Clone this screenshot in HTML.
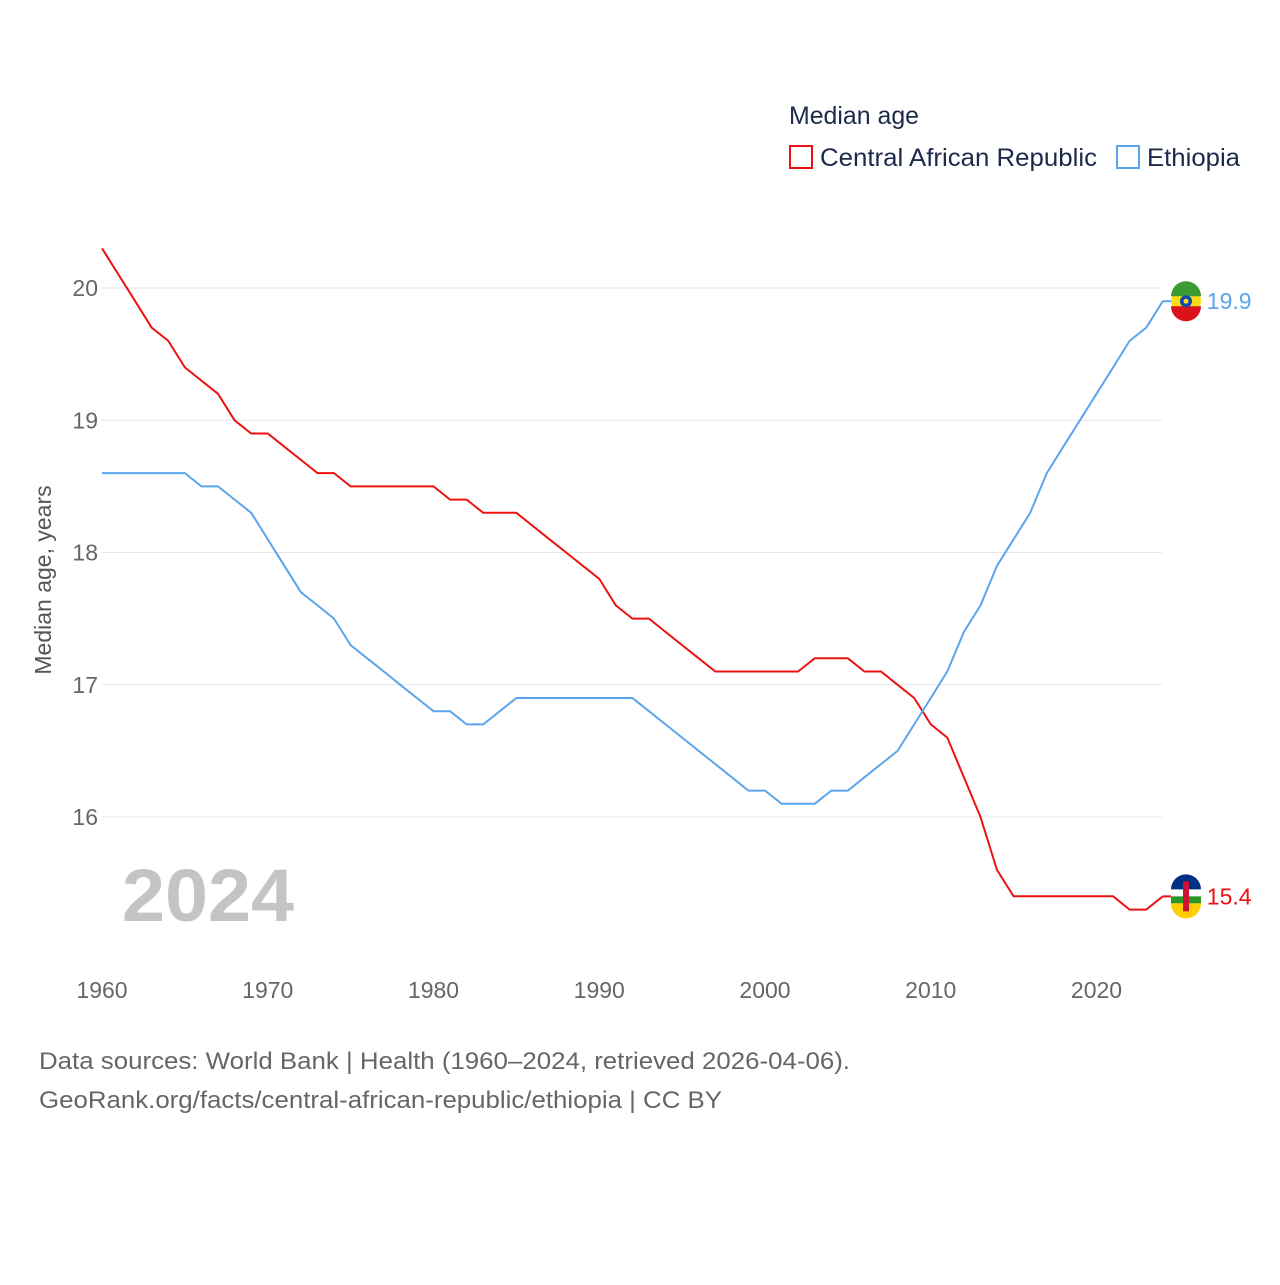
<!DOCTYPE html>
<html><head><meta charset="utf-8">
<style>
html,body{margin:0;padding:0;background:#fff;}
body{width:1280px;height:1280px;overflow:hidden;font-family:"Liberation Sans",sans-serif;}
</style></head>
<body>
<svg id="chart" width="1280" height="1280" xmlns="http://www.w3.org/2000/svg" style="font-family:'Liberation Sans',sans-serif">
  <text x="789" y="124" font-size="25" fill="#1b2a4a" textLength="130" lengthAdjust="spacingAndGlyphs">Median age</text>
  <g>
    <rect x="790" y="146" width="22" height="22" fill="none" stroke="#ee1111" stroke-width="2"/>
    <text x="820" y="166" font-size="25" fill="#1b2a4a" textLength="277" lengthAdjust="spacingAndGlyphs">Central African Republic</text>
  </g>
  <g>
    <rect x="1117" y="146" width="22" height="22" fill="none" stroke="#5aa5ec" stroke-width="2"/>
    <text x="1147" y="166" font-size="25" fill="#1b2a4a" textLength="93" lengthAdjust="spacingAndGlyphs">Ethiopia</text>
  </g>
  <g id="grid"></g>
  <g id="yticks"></g>
  <g id="xticks"></g>
  <text transform="translate(51,580) rotate(-90)" text-anchor="middle" font-size="23" fill="#555">Median age, years</text>
  <text x="122" y="921" font-size="74" font-weight="bold" fill="#c4c4c4" textLength="172" lengthAdjust="spacingAndGlyphs">2024</text>
  <g id="lines"></g>
  <text x="39" y="1069" font-size="24" fill="#666" textLength="811" lengthAdjust="spacingAndGlyphs">Data sources: World Bank | Health (1960–2024, retrieved 2026-04-06).</text>
  <text x="39" y="1108" font-size="24" fill="#666" textLength="683" lengthAdjust="spacingAndGlyphs">GeoRank.org/facts/central-african-republic/ethiopia | CC BY</text>
</svg>
<script>
const years = [];
for (let y = 1960; y <= 2024; y++) years.push(y);
const carValues = [20.3,20.1,19.9,19.7,19.6,19.4,19.3,19.2,19.0,18.9,18.9,18.8,18.7,18.6,18.6,18.5,18.5,18.5,18.5,18.5,18.5,18.4,18.4,18.3,18.3,18.3,18.2,18.1,18.0,17.9,17.8,17.6,17.5,17.5,17.4,17.3,17.2,17.1,17.1,17.1,17.1,17.1,17.1,17.2,17.2,17.2,17.1,17.1,17.0,16.9,16.7,16.6,16.3,16.0,15.6,15.4,15.4,15.4,15.4,15.4,15.4,15.4,15.3,15.3,15.4];
const ethValues = [18.6,18.6,18.6,18.6,18.6,18.6,18.5,18.5,18.4,18.3,18.1,17.9,17.7,17.6,17.5,17.3,17.2,17.1,17.0,16.9,16.8,16.8,16.7,16.7,16.8,16.9,16.9,16.9,16.9,16.9,16.9,16.9,16.9,16.8,16.7,16.6,16.5,16.4,16.3,16.2,16.2,16.1,16.1,16.1,16.2,16.2,16.3,16.4,16.5,16.7,16.9,17.1,17.4,17.6,17.9,18.1,18.3,18.6,18.8,19.0,19.2,19.4,19.6,19.7,19.9];
const yTicks = [16,17,18,19,20];
const xTicks = [1960,1970,1980,1990,2000,2010,2020];

const NS = "http://www.w3.org/2000/svg";
const xs = y => 102 + (y - 1960) * 16.575;
const ys = v => 817 - (v - 16) * 132.25;
function mk(tag, attrs, parent) { const e = document.createElementNS(NS, tag); for (const k in attrs) e.setAttribute(k, attrs[k]); parent.appendChild(e); return e; }

const grid = document.getElementById('grid'), yt = document.getElementById('yticks'), xt = document.getElementById('xticks'), lines = document.getElementById('lines');
yTicks.forEach(t => {
  const l = mk('line', {x1: 102, x2: 1162, y1: ys(t), y2: ys(t), stroke: '#e6e6e6', 'stroke-width': 1}, grid);
  
  
  const tx = mk('text', {x: 98, y: ys(t) + 8, 'text-anchor': 'end', 'font-size': 23, fill: '#666'}, yt);
  tx.textContent = t;
  
  
});
xTicks.forEach(t => {
  const tx = mk('text', {x: xs(t), y: 998, 'text-anchor': 'middle', 'font-size': 23, fill: '#666'}, xt);
  tx.textContent = t;
  
  
});
function drawLine(vals, color, name) {
  const d = vals.map((v, i) => (i ? 'L' : 'M') + xs(years[i]).toFixed(1) + ',' + ys(v).toFixed(1)).join('');
  const p = mk('path', {d: d, fill: 'none', stroke: color, 'stroke-width': 2, 'stroke-linejoin': 'round'}, lines);
  
  
  const last = vals[vals.length - 1];
  const lx = xs(years[years.length - 1]);
  mk('line', {x1: lx, x2: lx + 24, y1: ys(last), y2: ys(last), stroke: color, 'stroke-width': 2}, lines);
  const lbl = mk('text', {x: lx + 44, y: ys(last) + 8, 'font-size': 23, fill: color}, lines);
  lbl.textContent = last.toFixed(1);
  
  
  return ys(last);
}
const yc = drawLine(carValues, '#ee1111', 'car');
const ye = drawLine(ethValues, '#5aa5ec', 'ethiopia');
const fx = 1186;
const ef = mk('g', {}, lines);


mk('circle', {cx: fx, cy: ye, r: 15, fill: '#f9dd16'}, ef);
mk('path', {d: `M${fx-15},${ye-5} A15,15 0 0 1 ${fx+15},${ye-5} Z`, fill: '#3c9a35'}, ef);
mk('path', {d: `M${fx-15},${ye+5} A15,15 0 0 0 ${fx+15},${ye+5} Z`, fill: '#da121a'}, ef);
mk('circle', {cx: fx, cy: ye, r: 6, fill: '#0f47af'}, ef);
mk('circle', {cx: fx, cy: ye, r: 2.5, fill: '#f9dd16'}, ef);
const cf = mk('g', {}, lines);


mk('circle', {cx: fx, cy: yc, r: 15, fill: '#ffffff'}, cf);
mk('path', {d: `M${fx-15},${yc-7} A15,15 0 0 1 ${fx+15},${yc-7} Z`, fill: '#003082'}, cf);
mk('rect', {x: fx-15, y: yc, width: 30, height: 7, fill: '#289728'}, cf);
mk('path', {d: `M${fx-15},${yc+7} A15,15 0 0 0 ${fx+15},${yc+7} Z`, fill: '#ffce00'}, cf);
mk('rect', {x: fx-3, y: yc-15, width: 6, height: 30, fill: '#d21034'}, cf);
</script>
</body></html>
